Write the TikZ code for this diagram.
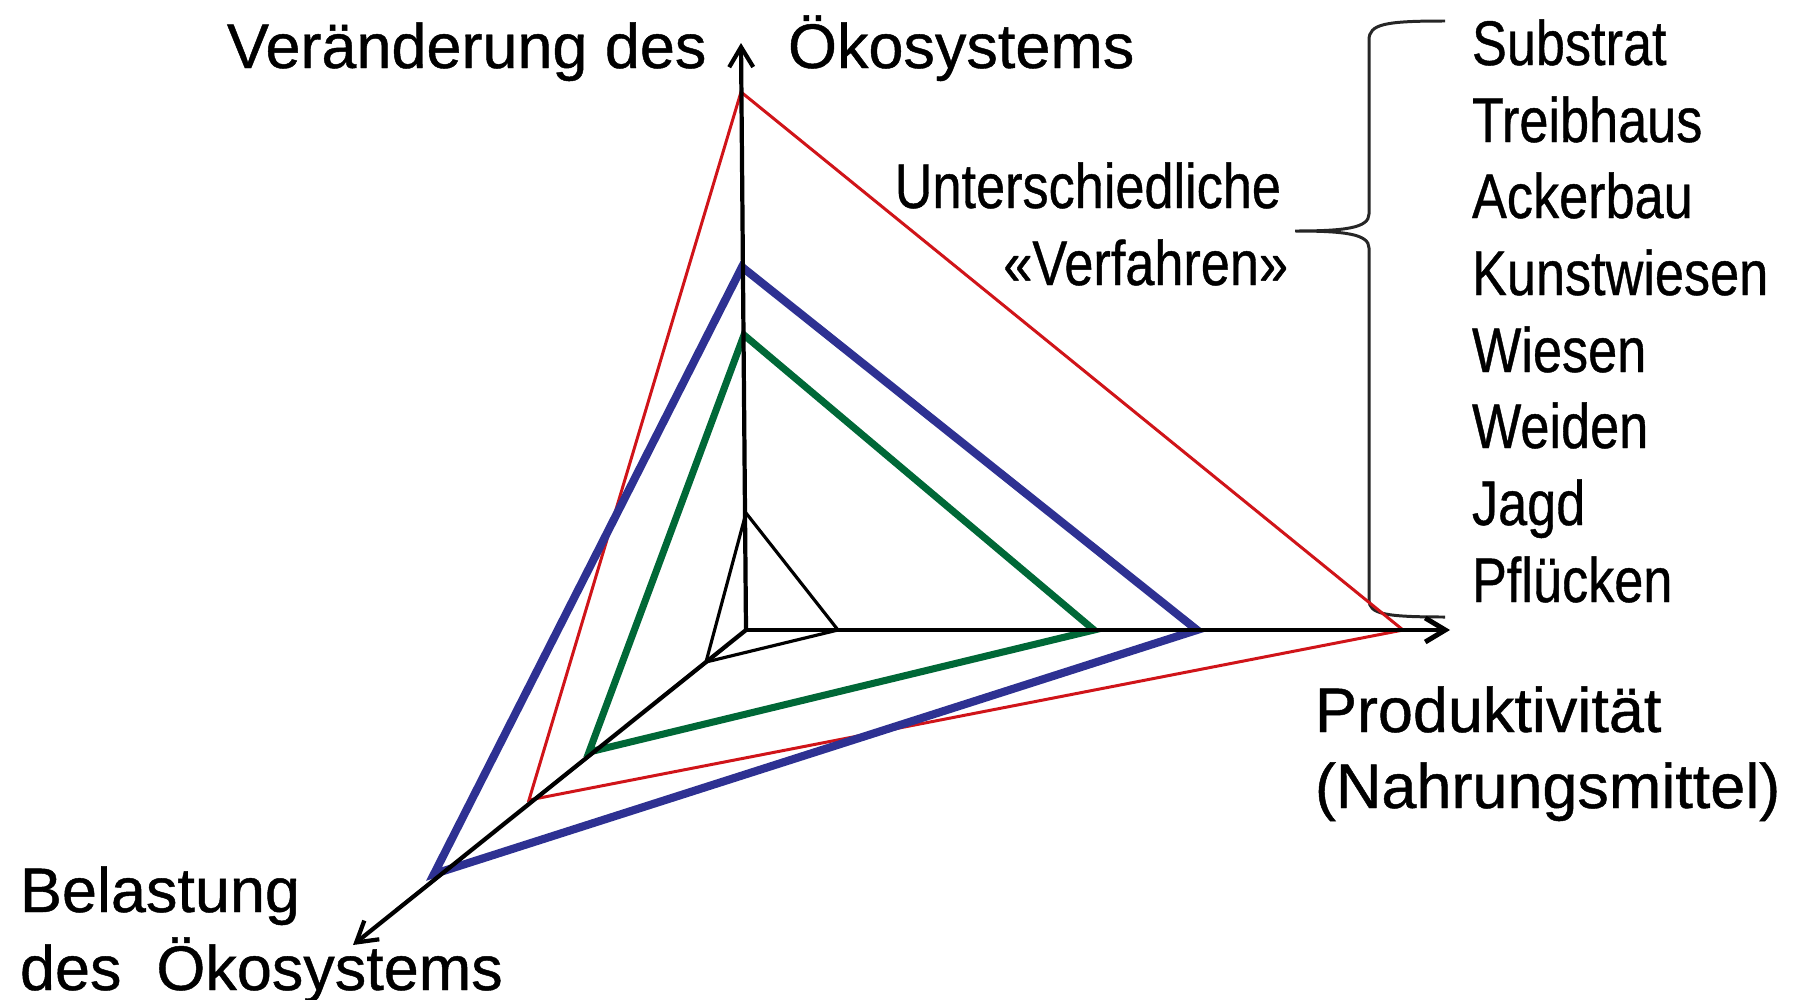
\documentclass[tikz,border=0pt]{standalone}
\usepackage{fontspec}
\setmainfont{Liberation Sans}[RawFeature={embolden=0.7}]
\usepackage{graphicx}
\usetikzlibrary{arrows.meta}
\definecolor{tred}{RGB}{208,20,25}
\definecolor{tblue}{RGB}{46,49,146}
\definecolor{tgreen}{RGB}{0,104,55}
\newcommand{\cnd}[1]{\scalebox{0.83}[1]{#1}}
\begin{document}
\begin{tikzpicture}[x=0.01cm,y=-0.01cm,
  lbl/.style={inner sep=0pt, outer sep=0pt, font=\fontsize{17.9pt}{21pt}\selectfont},
  axisline/.style={line width=1.2pt, -{Straight Barb[length=0.2cm,width=0.24cm]}},
  redtri/.style={tred, line width=0.85pt, line join=miter},
  bluetri/.style={tblue, line width=2.3pt, line join=miter},
  greentri/.style={tgreen, line width=2.0pt, line join=miter},
  blacktri/.style={black, line width=0.9pt, line join=miter},
  bracestyle/.style={black!85, line width=0.85pt}]
\useasboundingbox (0,0) rectangle (1800,1000);

% axis end points
\coordinate (O) at (746,630);
\coordinate (Vt) at (741,43);
\coordinate (Ht) at (1450,630);
\coordinate (Dt) at (353,945);

% triangle vertices
\coordinate (R1) at (741,92);  \coordinate (R2) at (1403,630); \coordinate (R3) at (529,800);
\coordinate (B1) at (742,267); \coordinate (B2) at (1197,630); \coordinate (B3) at (434,874);
\coordinate (G1) at (744,335); \coordinate (G2) at (1094,630); \coordinate (G3) at (589,752);
\coordinate (K1) at (746,513); \coordinate (K2) at (838,630);  \coordinate (K3) at (706,662);

% brace
\coordinate (BrT) at (1445,21);
\coordinate (BrM) at (1295,231);
\coordinate (BrB) at (1445,617);
\draw[bracestyle] (BrT) .. controls (1385,21) and (1369,24) .. (1369,40)
  -- (1369,214) .. controls (1369,228) and (1345,231) .. (BrM)
  .. controls (1345,231) and (1369,234) .. (1369,248)
  -- (1369,600) .. controls (1369,614) and (1385,617) .. (BrB);

% triangles
\draw[redtri] (R1) -- (R2) -- (R3) -- cycle;
\draw[bluetri] (B1) -- (B2) -- (B3) -- cycle;
\draw[greentri] (G1) -- (G2) -- (G3) -- cycle;
\draw[blacktri] (K1) -- (K2) -- (K3) -- cycle;

% axes
\draw[axisline] (O) -- (Vt);
\draw[axisline, line width=1.4pt] (O) -- (Ht);
\draw[axisline] (O) -- (Dt);

% labels
\node[lbl, anchor=base west] (lv1) at (227,68) {Veränderung des};
\node[lbl, anchor=base west] (lv2) at (788,68) {Ökosystems};
\node[lbl, anchor=base west] (lp1) at (1315,732) {Produktivität};
\node[lbl, anchor=base west] (lp2) at (1315,808) {(Nahrungsmittel)};
\node[lbl, anchor=base west] (lb1) at (20,912) {Belastung};
\node[lbl, anchor=base west] (lb2) at (20,990) {des~~Ökosystems};
\node[lbl, anchor=base east] (lu1) at (1281,208) {\cnd{Unterschiedliche}};
\node[lbl, anchor=base east] (lu2) at (1288,285) {\cnd{«Verfahren»}};

\node[lbl, anchor=base west] (i1) at (1472,65)  {\cnd{Substrat}};
\node[lbl, anchor=base west] (i2) at (1472,142) {\cnd{Treibhaus}};
\node[lbl, anchor=base west] (i3) at (1472,218) {\cnd{Ackerbau}};
\node[lbl, anchor=base west] (i4) at (1472,295) {\cnd{Kunstwiesen}};
\node[lbl, anchor=base west] (i5) at (1472,372) {\cnd{Wiesen}};
\node[lbl, anchor=base west] (i6) at (1472,448) {\cnd{Weiden}};
\node[lbl, anchor=base west] (i7) at (1472,525) {\cnd{Jagd}};
\node[lbl, anchor=base west] (i8) at (1472,602) {\cnd{Pflücken}};
\end{tikzpicture}
\end{document}
